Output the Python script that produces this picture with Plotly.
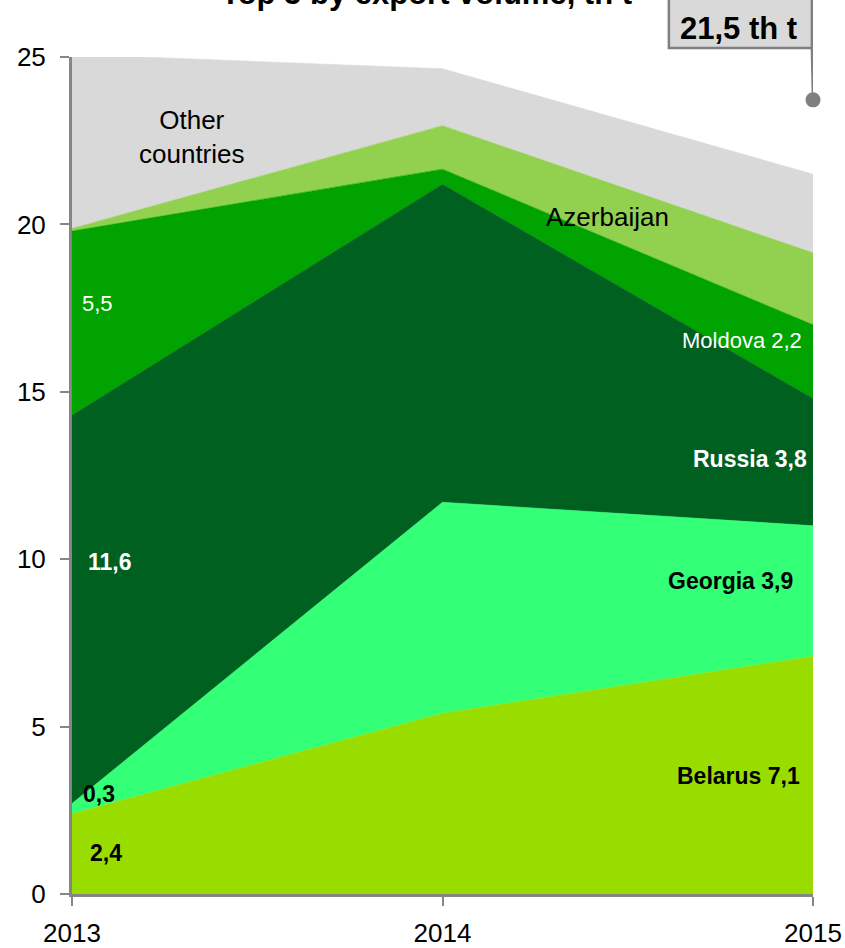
import plotly.graph_objects as go

years = [2013, 2014, 2015]
belarus = [2.4, 5.4, 7.1]
georgia = [0.3, 6.3, 3.9]
russia = [11.6, 9.5, 3.8]
moldova = [5.5, 0.45, 2.2]
azerbaijan = [0.08, 1.3, 2.15]
other = [5.2, 1.7, 2.35]

series = [
    ("Belarus", belarus, "#99DD00"),
    ("Georgia", georgia, "#33FF77"),
    ("Russia", russia, "#00601F"),
    ("Moldova", moldova, "#00A300"),
    ("Azerbaijan", azerbaijan, "#92D050"),
    ("Other countries", other, "#D9D9D9"),
]

FONT = "Liberation Sans, Arial, sans-serif"

fig = go.Figure()
for name, vals, col in series:
    fig.add_trace(go.Scatter(
        x=years, y=vals, name=name, stackgroup="one", mode="lines",
        line=dict(width=0.6, color=col), fillcolor=col, hoverinfo="x+y+name",
    ))

# callout dot
fig.add_trace(go.Scatter(x=[2015], y=[23.72], mode="markers",
                         marker=dict(size=15, color="#7F7F7F"),
                         cliponaxis=False, showlegend=False, hoverinfo="skip"))

def ann(text, x, y, xanchor="center", color="black", size=23, bold=False):
    t = f"<b>{text}</b>" if bold else text
    fig.add_annotation(x=x, y=y, xref="x", yref="y", text=t, showarrow=False,
                       xanchor=xanchor, yanchor="middle",
                       font=dict(family=FONT, size=size, color=color))

ann("Other<br>countries", 2013.324, 22.61, size=26)
ann("Azerbaijan", 2014.444, 20.22, size=26)
ann("5,5", 2013.022, 17.65, xanchor="left", color="white", size=22)
ann("Moldova 2,2", 2014.975, 16.52, xanchor="right", color="white", size=22)
ann("Russia 3,8", 2014.989, 12.99, xanchor="right", color="white", size=23, bold=True)
ann("11,6", 2013.038, 9.92, xanchor="left", color="white", size=23, bold=True)
ann("Georgia 3,9", 2014.951, 9.35, xanchor="right", size=23, bold=True)
ann("Belarus 7,1", 2014.970, 3.52, xanchor="right", size=23, bold=True)
ann("0,3", 2013.025, 2.99, xanchor="left", size=23, bold=True)
ann("2,4", 2013.044, 1.22, xanchor="left", size=23, bold=True)

# title (partially cut at the top, as in the reference)
fig.add_annotation(x=0.479, y=1.0757, xref="paper", yref="paper",
                   text="<b>Top 5 by export volume, th t</b>", showarrow=False,
                   xanchor="center", yanchor="middle",
                   font=dict(family=FONT, size=31, color="black"))

# total callout box
fig.add_shape(type="rect", xref="x", yref="paper", x0=2014.611, x1=2014.997,
              y0=1.0108, y1=1.2, fillcolor="#D9D9D9",
              line=dict(color="#7F7F7F", width=2.5), layer="above")
fig.add_shape(type="line", xref="x", yref="paper", x0=2014.997, x1=2015.0,
              y0=1.0108, y1=0.9486, line=dict(color="#7F7F7F", width=2.5))
fig.add_annotation(x=2014.80, y=1.0346, xref="x", yref="paper",
                   text="<b>21,5 th t</b>", showarrow=False,
                   xanchor="center", yanchor="middle",
                   font=dict(family=FONT, size=31, color="black"))

fig.update_layout(
    width=845, height=948,
    margin=dict(l=72, r=32, t=57, b=54, autoexpand=False),
    plot_bgcolor="white", paper_bgcolor="white",
    showlegend=False,
    font=dict(family=FONT, size=26, color="black"),
    xaxis=dict(range=[2013, 2015], tickvals=years, ticktext=["2013", "2014", "2015"],
               showgrid=False, zeroline=False, showline=True, linecolor="#868686",
               linewidth=3, ticks="outside", ticklen=9, tickwidth=2,
               tickcolor="#868686", ticklabelstandoff=5, automargin=False,
               tickfont=dict(family=FONT, size=26, color="black")),
    yaxis=dict(range=[0, 25], tickvals=[0, 5, 10, 15, 20, 25],
               showgrid=False, zeroline=False, showline=True, linecolor="#868686",
               linewidth=3, ticks="outside", ticklen=9, tickwidth=2,
               tickcolor="#868686", ticklabelstandoff=9, automargin=False,
               tickfont=dict(family=FONT, size=26, color="black")),
)

fig.write_html(
    "out.html",
    config={"displayModeBar": False},
    post_script="document.body.style.margin='0';document.body.style.overflow='hidden';",
)
